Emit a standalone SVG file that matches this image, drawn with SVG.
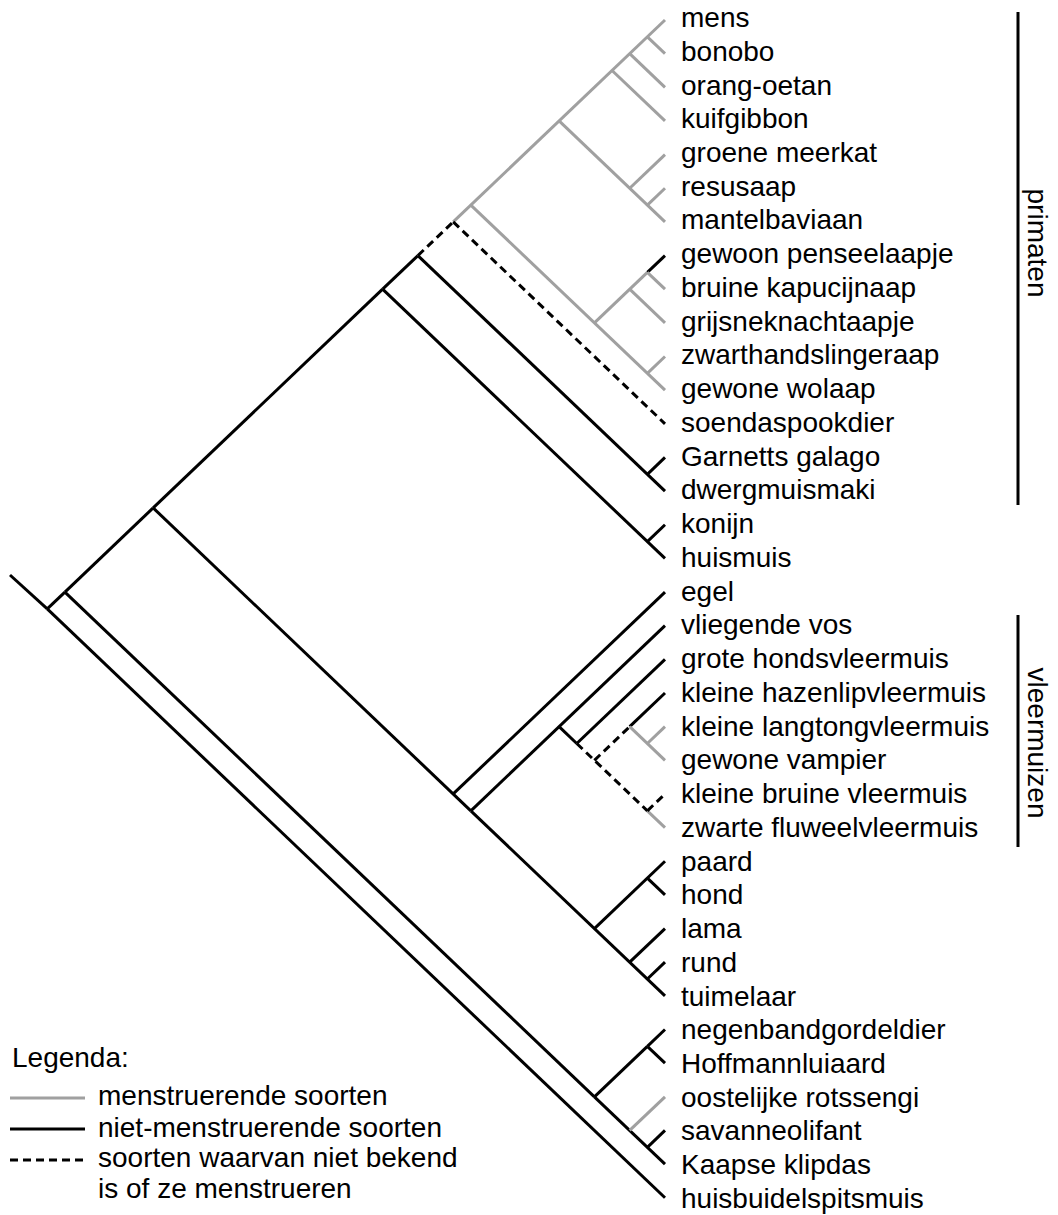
<svg xmlns="http://www.w3.org/2000/svg" width="1058" height="1215" viewBox="0 0 1058 1215">
<style>
text{font-family:"Liberation Sans",Arial,sans-serif;font-size:28px;fill:#000}
.k{stroke:#000;stroke-width:3;fill:none}
.g{stroke:#a0a0a0;stroke-width:3;fill:none}
.d{stroke:#000;stroke-width:3;fill:none;stroke-dasharray:8 5}
</style>
<rect width="1058" height="1215" fill="#fff"/>
<g id="connectors">
<g class="k">
<line x1="10" y1="575" x2="47.25" y2="608.9"/>
<line x1="47.25" y1="608.9" x2="64.9" y2="592.05"/>
<line x1="47.25" y1="608.9" x2="665" y2="1197.75"/>
<line x1="64.9" y1="592.05" x2="153.15" y2="507.9"/>
<line x1="64.9" y1="592.05" x2="594.4" y2="1096.8"/>
<line x1="594.4" y1="1096.8" x2="647.35" y2="1046.3"/>
<line x1="647.35" y1="1046.3" x2="665" y2="1029.5"/>
<line x1="647.35" y1="1046.3" x2="665" y2="1063.15"/>
<line x1="594.4" y1="1096.8" x2="665" y2="1164.1"/>
<line x1="647.35" y1="1147.3" x2="665" y2="1130.45"/>
<line x1="153.15" y1="507.9" x2="382.6" y2="289.2"/>
<line x1="153.15" y1="507.9" x2="470.85" y2="810.8"/>
<line x1="382.6" y1="289.2" x2="417.9" y2="255.55"/>
<line x1="382.6" y1="289.2" x2="665" y2="558.4"/>
<line x1="647.35" y1="541.6" x2="665" y2="524.75"/>
<line x1="417.9" y1="255.55" x2="665" y2="491.1"/>
<line x1="647.35" y1="474.3" x2="665" y2="457.45"/>
<line x1="647.35" y1="272.4" x2="665" y2="255.55"/>
<line x1="453.2" y1="793.95" x2="665" y2="592.05"/>
<line x1="470.85" y1="810.8" x2="665" y2="625.7"/>
<line x1="470.85" y1="810.8" x2="665" y2="995.85"/>
<line x1="559.1" y1="726.65" x2="576.75" y2="743.5"/>
<line x1="576.75" y1="743.5" x2="665" y2="659.35"/>
<line x1="629.7" y1="726.65" x2="665" y2="693"/>
<line x1="594.4" y1="928.55" x2="665" y2="861.25"/>
<line x1="647.35" y1="878.1" x2="665" y2="894.9"/>
<line x1="629.7" y1="962.2" x2="665" y2="928.55"/>
<line x1="647.35" y1="979" x2="665" y2="962.2"/>
</g>
<g class="g">
<line x1="629.7" y1="1130.45" x2="665" y2="1096.8"/>
<line x1="453.2" y1="221.9" x2="665" y2="20"/>
<line x1="470.85" y1="205.1" x2="665" y2="390.15"/>
<line x1="559.1" y1="120.95" x2="665" y2="221.9"/>
<line x1="612.05" y1="70.5" x2="665" y2="120.95"/>
<line x1="629.7" y1="53.65" x2="665" y2="87.3"/>
<line x1="647.35" y1="36.8" x2="665" y2="53.65"/>
<line x1="629.7" y1="188.25" x2="665" y2="154.6"/>
<line x1="647.35" y1="205.1" x2="665" y2="188.25"/>
<line x1="594.4" y1="322.85" x2="647.35" y2="272.4"/>
<line x1="629.7" y1="289.2" x2="665" y2="322.85"/>
<line x1="647.35" y1="272.4" x2="665" y2="289.2"/>
<line x1="647.35" y1="373.3" x2="665" y2="356.5"/>
<line x1="629.7" y1="726.65" x2="665" y2="760.3"/>
<line x1="647.35" y1="743.5" x2="665" y2="726.65"/>
<line x1="647.35" y1="810.8" x2="665" y2="827.6"/>
</g>
<g class="d">
<line x1="417.9" y1="255.55" x2="453.2" y2="221.9"/>
<line x1="453.2" y1="221.9" x2="665" y2="423.8"/>
<line x1="576.75" y1="743.5" x2="647.35" y2="810.8"/>
<line x1="594.4" y1="760.3" x2="629.7" y2="726.65"/>
<line x1="647.35" y1="810.8" x2="665" y2="793.95"/>
</g>
</g>
<g id="leaves">
<g id="n0"><text x="681" y="27">mens</text></g>
<g id="n1"><text x="681" y="60.7">bonobo</text></g>
<g id="n2"><text x="681" y="94.5">orang-oetan</text></g>
<g id="n3"><text x="681" y="128.2">kuifgibbon</text></g>
<g id="n4"><text x="681" y="162">groene meerkat</text></g>
<g id="n5"><text x="681" y="195.7">resusaap</text></g>
<g id="n6"><text x="681" y="229.4">mantelbaviaan</text></g>
<g id="n7"><text x="681" y="263.2">gewoon penseelaapje</text></g>
<g id="n8"><text x="681" y="296.9">bruine kapucijnaap</text></g>
<g id="n9"><text x="681" y="330.7">grijsneknachtaapje</text></g>
<g id="n10"><text x="681" y="364.4">zwarthandslingeraap</text></g>
<g id="n11"><text x="681" y="398.1">gewone wolaap</text></g>
<g id="n12"><text x="681" y="431.9">soendaspookdier</text></g>
<g id="n13"><text x="681" y="465.6">Garnetts galago</text></g>
<g id="n14"><text x="681" y="499.4">dwergmuismaki</text></g>
<g id="n15"><text x="681" y="533.1">konijn</text></g>
<g id="n16"><text x="681" y="566.8">huismuis</text></g>
<g id="n17"><text x="681" y="600.6">egel</text></g>
<g id="n18"><text x="681" y="634.3">vliegende vos</text></g>
<g id="n19"><text x="681" y="668.1">grote hondsvleermuis</text></g>
<g id="n20"><text x="681" y="701.8">kleine hazenlipvleermuis</text></g>
<g id="n21"><text x="681" y="735.5">kleine langtongvleermuis</text></g>
<g id="n22"><text x="681" y="769.3">gewone vampier</text></g>
<g id="n23"><text x="681" y="803">kleine bruine vleermuis</text></g>
<g id="n24"><text x="681" y="836.8">zwarte fluweelvleermuis</text></g>
<g id="n25"><text x="681" y="870.5">paard</text></g>
<g id="n26"><text x="681" y="904.2">hond</text></g>
<g id="n27"><text x="681" y="938">lama</text></g>
<g id="n28"><text x="681" y="971.7">rund</text></g>
<g id="n29"><text x="681" y="1005.5">tuimelaar</text></g>
<g id="n30"><text x="681" y="1039.2">negenbandgordeldier</text></g>
<g id="n31"><text x="681" y="1072.9">Hoffmannluiaard</text></g>
<g id="n32"><text x="681" y="1106.7">oostelijke rotssengi</text></g>
<g id="n33"><text x="681" y="1140.4">savanneolifant</text></g>
<g id="n34"><text x="681" y="1174.2">Kaapse klipdas</text></g>
<g id="n35"><text x="681" y="1207.9">huisbuidelspitsmuis</text></g>
</g>
<g id="group-primaten">
<line class="k" x1="1018" y1="12" x2="1018" y2="505"/>
<text transform="translate(1028 243) rotate(90)" text-anchor="middle">primaten</text>
</g>
<g id="group-vleermuizen">
<line class="k" x1="1018" y1="615" x2="1018" y2="847"/>
<text transform="translate(1028 743) rotate(90)" text-anchor="middle">vleermuizen</text>
</g>
<g id="legend">
<text x="12" y="1067">Legenda:</text>
<line class="g" x1="10" y1="1098" x2="85" y2="1098"/>
<line class="k" x1="10" y1="1129" x2="85" y2="1129"/>
<line class="d" x1="10" y1="1160" x2="85" y2="1160"/>
<text x="98" y="1105">menstruerende soorten</text>
<text x="98" y="1137">niet-menstruerende soorten</text>
<text x="98" y="1167">soorten waarvan niet bekend</text>
<text x="98" y="1198">is of ze menstrueren</text>
</g>
</svg>
